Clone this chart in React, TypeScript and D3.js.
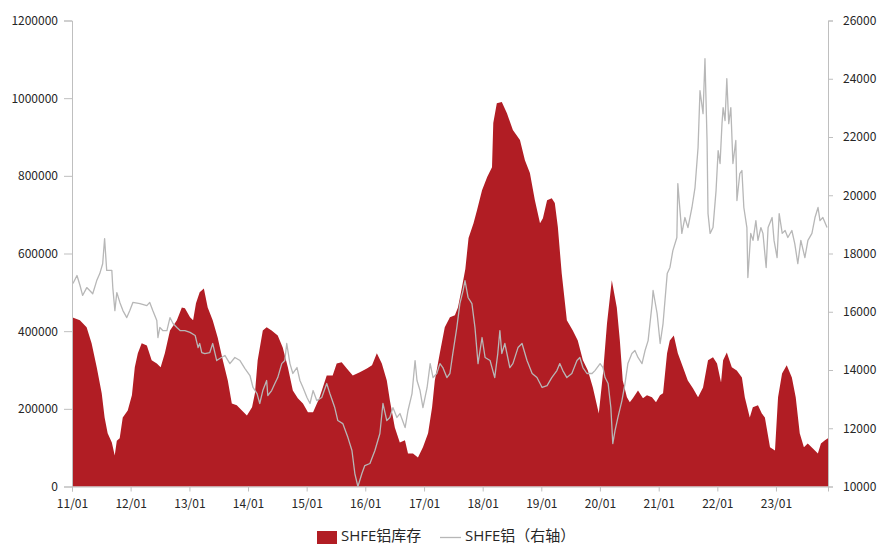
import * as d3 from 'd3'
import { useEffect, useRef } from 'react'

// SHFE aluminium inventory (tonnes), left axis
const stockDates = [
  '2011-01-01', '2011-02-19', '2011-04-02', '2011-05-03', '2011-06-04', '2011-07-05', '2011-07-23',
  '2011-08-11', '2011-09-06', '2011-09-24', '2011-10-07', '2011-10-25', '2011-11-13', '2011-12-14',
  '2012-01-09', '2012-01-27', '2012-02-15', '2012-03-10', '2012-04-11', '2012-05-11', '2012-06-12',
  '2012-07-06', '2012-08-01', '2012-09-02', '2012-10-15', '2012-11-15', '2012-12-04', '2013-01-05',
  '2013-01-24', '2013-02-11', '2013-03-06', '2013-04-01', '2013-04-25', '2013-05-26', '2013-06-26',
  '2013-07-28', '2013-08-28', '2013-09-22', '2013-10-23', '2013-11-24', '2013-12-25', '2014-01-26',
  '2014-02-13', '2014-03-02', '2014-04-03', '2014-04-27', '2014-05-28', '2014-07-05', '2014-08-05',
  '2014-09-06', '2014-10-07', '2014-11-07', '2014-12-09', '2015-01-09', '2015-02-10', '2015-03-23',
  '2015-05-06', '2015-06-12', '2015-07-07', '2015-08-07', '2015-09-08', '2015-10-15', '2015-11-28',
  '2016-01-11', '2016-02-12', '2016-03-13', '2016-04-13', '2016-05-14', '2016-06-02', '2016-07-03',
  '2016-08-03', '2016-09-04', '2016-09-23', '2016-10-24', '2016-11-24', '2016-12-25', '2017-01-26',
  '2017-02-20', '2017-03-09', '2017-04-09', '2017-05-10', '2017-06-11', '2017-07-12', '2017-07-31',
  '2017-08-25', '2017-09-15', '2017-10-05', '2017-11-05', '2017-11-27', '2017-12-28', '2018-01-29',
  '2018-02-28', '2018-03-08', '2018-03-30', '2018-04-30', '2018-06-01', '2018-07-08', '2018-08-21',
  '2018-09-21', '2018-10-22', '2018-11-22', '2018-12-24', '2019-01-11', '2019-02-06', '2019-03-07',
  '2019-03-26', '2019-04-14', '2019-05-08', '2019-06-09', '2019-07-16', '2019-08-16', '2019-09-17',
  '2019-10-18', '2019-11-18', '2019-12-25', '2020-01-20', '2020-02-14', '2020-03-15', '2020-04-15',
  '2020-05-04', '2020-05-22', '2020-06-17', '2020-07-05', '2020-07-24', '2020-08-25', '2020-09-25',
  '2020-10-20', '2020-11-20', '2020-12-15', '2021-01-09', '2021-01-28', '2021-02-22', '2021-03-11',
  '2021-04-05', '2021-04-30', '2021-06-01', '2021-07-01', '2021-08-02', '2021-09-03', '2021-10-04',
  '2021-11-04', '2021-12-05', '2021-12-30', '2022-01-24', '2022-02-06', '2022-03-01', '2022-04-01',
  '2022-05-02', '2022-06-03', '2022-06-21', '2022-07-22', '2022-08-10', '2022-09-11', '2022-10-05',
  '2022-10-24', '2022-11-25', '2022-12-26', '2023-01-14', '2023-02-08', '2023-03-09', '2023-04-10',
  '2023-05-04', '2023-05-29', '2023-06-24', '2023-07-18', '2023-08-19', '2023-09-19', '2023-10-08',
  '2023-11-02', '2023-11-21'
]
const stockValues = [
  436000, 428000, 410000, 369000, 307000, 240000, 178000,
  137000, 113000, 80000, 118000, 124000, 178000, 196000,
  235000, 307000, 343000, 369000, 363000, 325000, 317000,
  307000, 343000, 402000, 428000, 461000, 459000, 436000,
  428000, 472000, 500000, 510000, 461000, 428000, 384000,
  325000, 273000, 214000, 209000, 196000, 183000, 204000,
  240000, 325000, 402000, 410000, 402000, 389000, 358000,
  307000, 247000, 227000, 214000, 191000, 191000, 230000,
  286000, 286000, 317000, 320000, 304000, 286000, 294000,
  304000, 312000, 343000, 317000, 273000, 222000, 152000,
  113000, 119000, 85000, 85000, 75000, 101000, 137000,
  204000, 273000, 343000, 410000, 436000, 441000, 461000,
  513000, 560000, 640000, 678000, 712000, 763000, 797000,
  822000, 936000, 987000, 990000, 961000, 918000, 892000,
  840000, 807000, 737000, 678000, 691000, 737000, 742000,
  730000, 668000, 549000, 428000, 402000, 376000, 325000,
  299000, 255000, 188000, 291000, 420000, 531000, 461000,
  376000, 273000, 230000, 217000, 227000, 247000, 227000,
  235000, 230000, 217000, 235000, 240000, 343000, 376000,
  389000, 343000, 307000, 273000, 253000, 230000, 255000,
  325000, 333000, 317000, 268000, 325000, 345000, 307000,
  299000, 281000, 230000, 178000, 204000, 209000, 188000,
  178000, 101000, 93000, 230000, 291000, 312000, 281000,
  230000, 137000, 101000, 111000, 98000, 85000, 111000,
  119000, 124000
]

// SHFE aluminium price (yuan/t), right axis
const priceDates = [
  '2011-01-07', '2011-02-01', '2011-02-20', '2011-03-08', '2011-04-03', '2011-04-21', '2011-05-10',
  '2011-06-04', '2011-06-23', '2011-07-11', '2011-07-23', '2011-08-05', '2011-09-06', '2011-09-12',
  '2011-09-25', '2011-10-07', '2011-10-26', '2011-11-14', '2011-12-08', '2011-12-27', '2012-01-15',
  '2012-02-28', '2012-04-11', '2012-04-29', '2012-05-18', '2012-06-12', '2012-06-19', '2012-07-01',
  '2012-07-19', '2012-08-14', '2012-09-02', '2012-09-21', '2012-10-15', '2012-11-04', '2012-12-04',
  '2013-01-05', '2013-02-06', '2013-02-24', '2013-03-06', '2013-03-19', '2013-04-07', '2013-05-08',
  '2013-05-26', '2013-06-20', '2013-07-09', '2013-08-10', '2013-09-10', '2013-10-11', '2013-11-12',
  '2013-12-13', '2014-01-13', '2014-02-01', '2014-02-26', '2014-03-15', '2014-04-03', '2014-04-27',
  '2014-05-04', '2014-05-28', '2014-06-17', '2014-07-05', '2014-07-30', '2014-08-18', '2014-08-30',
  '2014-09-19', '2014-10-07', '2014-11-02', '2014-11-20', '2014-12-09', '2015-01-03', '2015-01-22',
  '2015-02-10', '2015-03-05', '2015-04-05', '2015-05-06', '2015-05-25', '2015-06-25', '2015-07-14',
  '2015-08-14', '2015-09-15', '2015-10-10', '2015-10-28', '2015-11-16', '2015-12-11', '2015-12-29',
  '2016-01-30', '2016-03-01', '2016-04-01', '2016-04-20', '2016-05-14', '2016-06-02', '2016-06-21',
  '2016-07-16', '2016-08-04', '2016-09-05', '2016-09-23', '2016-10-18', '2016-11-06', '2016-11-18',
  '2016-12-07', '2016-12-25', '2017-01-20', '2017-02-08', '2017-02-26', '2017-03-21', '2017-04-10',
  '2017-04-28', '2017-05-23', '2017-06-11', '2017-06-29', '2017-07-24', '2017-08-12', '2017-09-01',
  '2017-09-13', '2017-10-02', '2017-10-26', '2017-11-14', '2017-12-03', '2017-12-28', '2018-01-16',
  '2018-02-16', '2018-03-17', '2018-04-05', '2018-04-18', '2018-04-30', '2018-05-19', '2018-06-19',
  '2018-07-08', '2018-08-09', '2018-09-03', '2018-10-04', '2018-11-05', '2018-12-05', '2019-01-06',
  '2019-02-06', '2019-03-07', '2019-04-08', '2019-04-26', '2019-05-15', '2019-06-09', '2019-07-10',
  '2019-08-11', '2019-08-29', '2019-09-17', '2019-10-12', '2019-11-13', '2019-12-01', '2020-01-02',
  '2020-01-20', '2020-02-02', '2020-02-21', '2020-03-09', '2020-03-21', '2020-04-04', '2020-04-22',
  '2020-05-17', '2020-06-05', '2020-06-23', '2020-07-18', '2020-08-06', '2020-08-25', '2020-09-19',
  '2020-10-08', '2020-10-27', '2020-11-21', '2020-11-27', '2020-12-22', '2021-01-10', '2021-01-28',
  '2021-02-23', '2021-03-12', '2021-03-30', '2021-04-24', '2021-04-30', '2021-05-25', '2021-06-13',
  '2021-07-02', '2021-07-27', '2021-08-15', '2021-09-03', '2021-09-15', '2021-10-04', '2021-10-16',
  '2021-10-29', '2021-11-04', '2021-11-17', '2021-12-05', '2021-12-24', '2022-01-06', '2022-01-18',
  '2022-01-30', '2022-02-06', '2022-02-18', '2022-03-01', '2022-03-13', '2022-03-26', '2022-04-08',
  '2022-04-26', '2022-05-03', '2022-05-21', '2022-06-03', '2022-06-15', '2022-07-04', '2022-07-10',
  '2022-07-28', '2022-08-11', '2022-08-29', '2022-09-11', '2022-09-29', '2022-10-12', '2022-11-01',
  '2022-11-13', '2022-12-08', '2022-12-20', '2023-01-08', '2023-01-21', '2023-02-09', '2023-02-27',
  '2023-03-16', '2023-04-10', '2023-04-28', '2023-05-17', '2023-06-05', '2023-06-30', '2023-07-19',
  '2023-08-13', '2023-09-01', '2023-09-20', '2023-10-02', '2023-10-20', '2023-11-15'
]
const priceValues = [
  16970, 17245, 16900, 16560, 16830, 16730, 16620,
  17070, 17310, 17650, 18510, 17420, 17420, 16830,
  16040, 16660, 16320, 16040, 15800, 16040, 16320,
  16280, 16210, 16320, 16040, 15700, 15115, 15460,
  15355, 15355, 15800, 15595, 15460, 15355, 15355,
  15290, 15185, 14770, 14910, 14600, 14565, 14600,
  14910, 14325, 14395, 14500, 14220, 14430, 14325,
  14050, 13810, 13400, 13190, 12850, 13295, 13640,
  13125, 13295, 13535, 13740, 14220, 14325, 14910,
  14220, 13880, 14085, 13640, 13400, 13055, 12850,
  13295, 12950, 13055, 13535, 13200, 12710, 12265,
  12160, 11680, 11235, 10445, 10000, 10445, 10720,
  10790, 11235, 11820, 12850, 12265, 12370, 12710,
  12370, 12505, 12025, 12610, 13190, 14325, 13640,
  13295, 12710, 13400, 14220, 13740, 13880, 14220,
  14085, 13740, 13880, 14565, 15460, 16280, 16730,
  17070, 16490, 16280, 15460, 14220, 15115, 14430,
  14325, 13740, 14565, 15355, 14565, 14910, 14085,
  14220, 14770, 14910, 14325, 13880, 13740, 13400,
  13465, 13740, 13980, 14220, 13980, 13740, 13880,
  14325, 14430, 14085, 13880, 13880, 13980, 14220,
  14085, 13740, 13535, 12710, 11475, 11920, 12370,
  12950, 13535, 14220, 14565, 14670, 14430, 14220,
  14670, 15010, 16280, 16730, 15940, 14910, 15595,
  17310, 17520, 18100, 18550, 20400, 18690, 19235,
  18890, 19580, 20265, 21640, 23595, 22800, 24690,
  21880, 19370, 18690, 18890, 20160, 21535, 21090,
  22460, 23010, 22565, 24000, 22460, 23010, 21090,
  21880, 19820, 20745, 20850, 19580, 18890, 17175,
  18690, 18450, 19130, 18450, 18890, 18690, 17520,
  18890, 19235, 18450, 17860, 19370, 18690, 18790,
  18550, 18790, 18340, 17655, 18450, 17860, 18450,
  18690, 19235, 19580, 19130, 19235, 18890
]

const leftTicks = [0, 200000, 400000, 600000, 800000, 1000000, 1200000]
const rightTicks = [10000, 12000, 14000, 16000, 18000, 20000, 22000, 24000, 26000]
const legendLabels = ['SHFE铝库存', 'SHFE铝（右轴）']

const RED = '#b11d24'
const GREY = '#b7b7b7'
const AXIS = '#bfbfbf'
const FONT = '"Noto Sans CJK SC", "Noto Sans", sans-serif'
const LEGEND_FONT = '"Open Sans", "Noto Sans CJK SC", sans-serif'

export default function App() {
  const svgRef = useRef<SVGSVGElement | null>(null)

  useEffect(() => {
    if (!svgRef.current) return
    document.body.style.margin = '0'

    const width = 877
    const height = 546
    const margin = { top: 20.5, right: 49, bottom: 59.5, left: 72 }
    const parse = d3.timeParse('%Y-%m-%d')

    const stock = stockDates.map((d, i) => ({ date: parse(d) as Date, value: stockValues[i] }))
    const price = priceDates.map((d, i) => ({ date: parse(d) as Date, value: priceValues[i] }))

    const svg = d3.select(svgRef.current)
    svg.selectAll('*').remove()
    svg.attr('width', width).attr('height', height)

    const x = d3
      .scaleTime()
      .domain([stock[0].date, stock[stock.length - 1].date])
      .range([margin.left, width - margin.right])
    const yL = d3
      .scaleLinear()
      .domain([0, 1200000])
      .range([height - margin.bottom, margin.top])
    const yR = d3
      .scaleLinear()
      .domain([10000, 26000])
      .range([height - margin.bottom, margin.top])

    const area = d3
      .area<{ date: Date; value: number }>()
      .x(d => x(d.date))
      .y0(yL(0))
      .y1(d => yL(d.value))

    svg.append('path').datum(stock).attr('fill', RED).attr('d', area)

    const line = d3
      .line<{ date: Date; value: number }>()
      .x(d => x(d.date))
      .y(d => yR(d.value))

    svg
      .append('path')
      .datum(price)
      .attr('fill', 'none')
      .attr('stroke', GREY)
      .attr('stroke-width', 1.3)
      .attr('stroke-linejoin', 'round')
      .attr('d', line)

    const styleAxis = (g: d3.Selection<SVGGElement, unknown, null, undefined>) => {
      g.select('.domain').attr('stroke', AXIS)
      g.selectAll('.tick line').attr('stroke', AXIS)
      g.selectAll('.tick text').attr('fill', '#262626').attr('font-size', 12).attr('font-family', FONT)
    }

    const yearTicks = d3.timeYear.range(new Date(2011, 0, 1), new Date(2024, 0, 1))
    svg
      .append('g')
      .attr('transform', `translate(0,${yL(0)})`)
      .call(
        d3.axisBottom(x).tickValues(yearTicks).tickFormat(d => d3.timeFormat('%y/%m')(d as Date)).tickSizeOuter(0).tickSize(5).tickPadding(8)
      )
      .call(styleAxis)

    svg
      .append('g')
      .attr('transform', `translate(${margin.left},0)`)
      .call(d3.axisLeft(yL).tickValues(leftTicks).tickFormat(d3.format('d')).tickSizeOuter(0).tickSize(8).tickPadding(6))
      .call(styleAxis)

    svg
      .append('g')
      .attr('transform', `translate(${width - margin.right},0)`)
      .call(d3.axisRight(yR).tickValues(rightTicks).tickFormat(d3.format('d')).tickSizeOuter(0).tickSize(5).tickPadding(10))
      .call(styleAxis)

    const legend = svg.append('g').attr('font-family', LEGEND_FONT).attr('font-size', 15).attr('fill', '#262626')
    legend.append('rect').attr('x', 317).attr('y', 531).attr('width', 20).attr('height', 13).attr('fill', RED)
    legend.append('text').attr('x', 341).attr('y', 541).text(legendLabels[0])
    legend
      .append('line')
      .attr('x1', 440)
      .attr('x2', 461)
      .attr('y1', 537.5)
      .attr('y2', 537.5)
      .attr('stroke', GREY)
      .attr('stroke-width', 1.3)
    legend.append('text').attr('x', 465).attr('y', 541).text(legendLabels[1])
  }, [])

  return (
    <div style={{ position: 'absolute', left: 0, top: 0 }}>
      <svg ref={svgRef} style={{ display: 'block' }} />
    </div>
  )
}
